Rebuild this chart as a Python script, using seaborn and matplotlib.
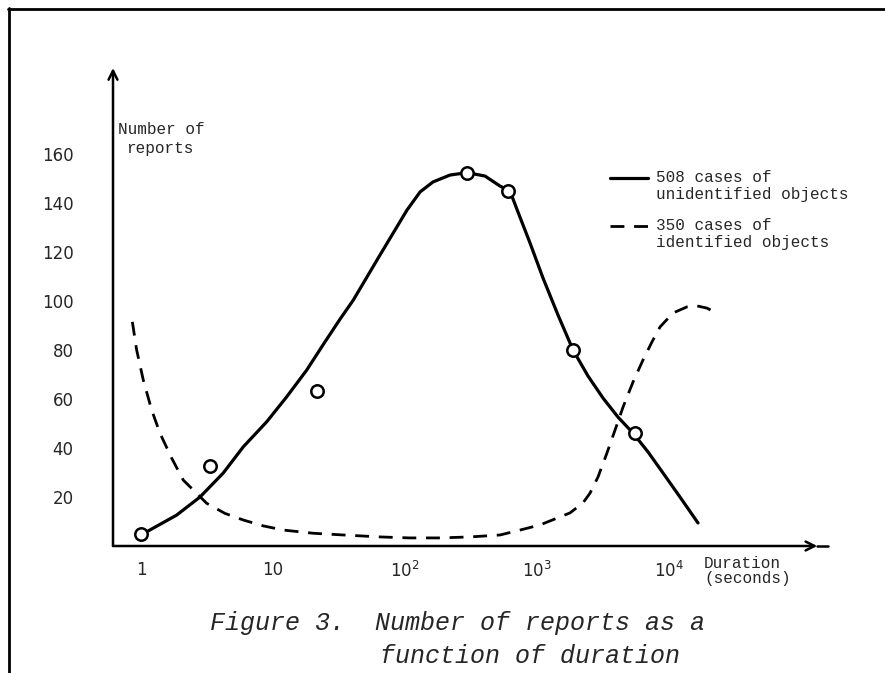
import numpy as np
import pandas as pd
import matplotlib.pyplot as plt
import seaborn as sns
from matplotlib.lines import Line2D

# values (duration in seconds, number of reports)
unident_dur = [1.13, 1.86, 2.8, 4.2, 5.96, 8.96, 12.7, 18, 24, 32.2, 40.6, 64.7, 103.5, 130, 163,
               219, 295, 404, 525, 624, 718, 885, 1110, 1442, 1875, 2433, 3162, 4110, 5335,
               6935, 9010, 12110, 16590]
unident_n = [6.1, 12.6, 20, 29.8, 40.5, 50.7, 60.9, 71.8, 82.2, 92.6, 100.4, 118.8, 137.1, 144.5, 148.6,
             151.4, 152.4, 151, 146.9, 144.9, 136.3, 123.7, 109.4, 94.3, 80, 69.4, 60.4, 52.6, 46.1,
             38.4, 29.8, 20, 9.4]

ident_dur = [0.86, 0.927, 1.04, 1.205, 1.393, 1.71, 2.09, 3.15, 4.33, 5.96, 8.45, 12, 20.2, 34.1,
             65, 108, 184, 311, 525, 743, 1054, 1778, 2230, 2523, 2900, 3390, 3900, 4485, 5335,
             6350, 7430, 8550, 10720, 13680, 16300, 19400, 23800]
ident_n = [91.5, 80, 67.8, 55.5, 46, 35.8, 26.9, 17.4, 13.3, 10.6, 8.2, 6.5, 5.2, 4.5,
           3.7, 3.3, 3.3, 3.7, 4.5, 6.5, 8.6, 13.5, 17.6, 21.6, 28.2, 38, 47.3, 56.7, 66.9,
           75.9, 83.3, 89.4, 95.1, 97.6, 98, 97.1, 94.6]

obs_dur = [1, 3.33, 21.5, 295, 600, 1875, 5500]
obs_n = [5, 32.7, 63.3, 152.2, 145, 80, 46.3]

x_ticks = [1, 10, 100, 1000, 10000]
x_labels = ['1', '10', '$10^2$', '$10^3$', '$10^4$']
y_ticks = [20, 40, 60, 80, 100, 120, 140, 160]

sns.set_style('white')
plt.rcParams['font.family'] = ['DejaVu Sans']

W, H = 885, 673
fig = plt.figure(figsize=(W / 100, H / 100), dpi=100)

# axes box in pixels: y axis at x=113, x axis at y=546
left, right, bottom, top = 113, 828, 546, 68
ax = fig.add_axes([left / W, 1 - bottom / H, (right - left) / W, (bottom - top) / H])

unident = pd.DataFrame({'dur': unident_dur, 'n': unident_n})
ident = pd.DataFrame({'dur': ident_dur, 'n': ident_n})
obs = pd.DataFrame({'dur': obs_dur, 'n': obs_n})

sns.lineplot(data=unident, x='dur', y='n', color='black', lw=2.3, ax=ax)
sns.lineplot(data=ident, x='dur', y='n', color='black', lw=2.0, ax=ax)
ax.lines[-1].set_dashes((5, 3.5))
sns.scatterplot(data=obs, x='dur', y='n', marker='o', s=80, facecolor='white',
                edgecolor='black', linewidth=1.8, zorder=5, ax=ax)

ax.set_xscale('log')
# 132 px per decade, x=1 at pixel 141; 2.45 px per report
ax.set_xlim(10 ** ((left - 141) / 132), 10 ** ((right - 141) / 132))
ax.set_ylim(0, (bottom - top) / 2.45)

ax.set_xticks(x_ticks)
ax.set_xticklabels(x_labels)
ax.minorticks_off()
ax.set_yticks(y_ticks)
ax.tick_params(axis='both', direction='inout', length=9, width=1.5, labelsize=12, color='black')
ax.tick_params(axis='x', pad=6)
ax.tick_params(axis='y', pad=24)
ax.set_xlabel('')
ax.set_ylabel('')

for s in ax.spines:
    ax.spines[s].set_visible(False)

# axis lines with open arrow heads
arrow = dict(arrowstyle='->', lw=1.8, color='black', mutation_scale=16, shrinkA=0, shrinkB=0)
ax.annotate('', xy=(0, 1), xytext=(0, 0), xycoords='axes fraction', arrowprops=arrow)
ax.annotate('', xy=(0.985, 0), xytext=(0, 0), xycoords='axes fraction', arrowprops=arrow)
ax.plot([0.985, 1.0], [0, 0], color='black', lw=1.8, transform=ax.transAxes, clip_on=False)

mono = 'Liberation Mono'
fs = 11.5
fig.text(118 / W, 1 - 130 / H, 'Number of', family=mono, fontsize=fs, va='center', ha='left')
fig.text(126 / W, 1 - 148 / H, 'reports', family=mono, fontsize=fs, va='center', ha='left')
fig.text(704 / W, 1 - 563 / H, 'Duration', family=mono, fontsize=fs, va='center', ha='left')
fig.text(704 / W, 1 - 579 / H, '(seconds)', family=mono, fontsize=fs, va='center', ha='left')

# key typed on the right
fig.add_artist(Line2D([610 / W, 648 / W], [1 - 178 / H] * 2, color='black', lw=2.3))
fig.add_artist(Line2D([610 / W, 648 / W], [1 - 226 / H] * 2, color='black', lw=2.0, dashes=(5, 3.5)))
fig.text(656 / W, 1 - 178 / H, '508 cases of', family=mono, fontsize=fs, va='center', ha='left')
fig.text(656 / W, 1 - 194 / H, 'unidentified objects', family=mono, fontsize=fs, va='center', ha='left')
fig.text(656 / W, 1 - 226 / H, '350 cases of', family=mono, fontsize=fs, va='center', ha='left')
fig.text(656 / W, 1 - 242 / H, 'identified objects', family=mono, fontsize=fs, va='center', ha='left')

fig.text(210 / W, 1 - 623 / H, 'Figure 3.  Number of reports as a', family=mono, style='italic',
         fontsize=18, va='center', ha='left')
fig.text(380 / W, 1 - 656 / H, 'function of duration', family=mono, style='italic',
         fontsize=18, va='center', ha='left')

# page frame on top and left
fig.add_artist(Line2D([8 / W, 1], [1 - 9 / H] * 2, color='black', lw=2))
fig.add_artist(Line2D([9 / W, 9 / W], [0, 1 - 8 / H], color='black', lw=2))

fig.savefig('out.png', dpi=100)
